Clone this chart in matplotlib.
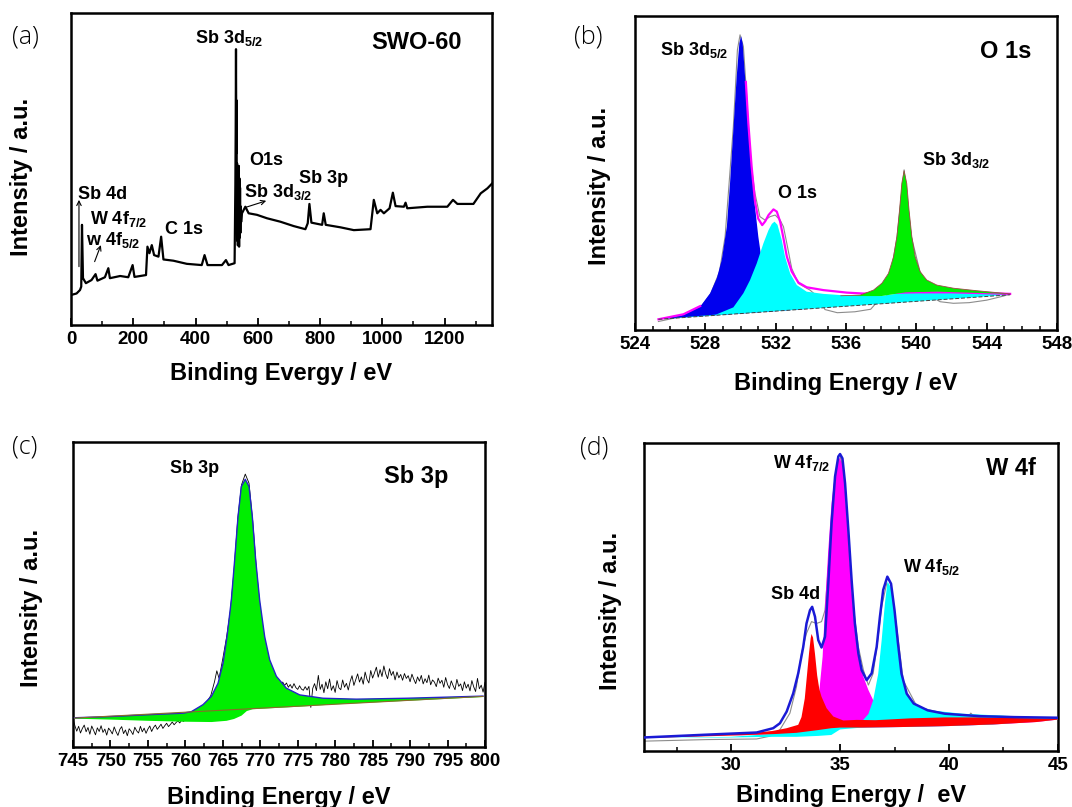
#!/usr/bin/env python3
# -*- coding: utf-8 -*-
"""
Four-panel XPS figure for SWO-60: (a) survey spectrum, (b) O 1s / Sb 3d,
(c) Sb 3p and (d) W 4f regions with fitted components.
Intensities are in arbitrary units (0-100 of the axis height).
"""

import numpy as np
import matplotlib
matplotlib.use("Agg")
import matplotlib.pyplot as plt
from matplotlib.ticker import MultipleLocator

plt.rcParams["font.family"] = ["Liberation Sans", "DejaVu Sans"]
plt.rcParams["font.weight"] = "bold"
plt.rcParams["axes.labelweight"] = "bold"
plt.rcParams["mathtext.default"] = "regular"

# ---------------- (a) survey ----------------
survey_x = [0, 18, 29, 33, 35.4, 38.6, 48, 66, 79, 85, 109, 120, 125, 158, 184, 198, 204,
            241, 245.6, 252, 259.6, 267, 281, 289.6, 297, 329, 372, 420, 429, 438.6, 485,
            497.7, 506, 525.5, 528.0, 529.0, 530.0, 531.0, 531.8, 532.6, 533.5, 534.3,
            535.2, 536.0, 537.0, 538.0, 539.0, 540.0, 541.0, 542.0, 543.0, 544.0, 545.0,
            546.5, 549.2, 560, 570.6, 597.5, 629.7, 672.5, 715.3, 752.9, 760.4, 765.8,
            772.2, 806.6, 811.8, 818.2, 865.5, 908.4, 962, 972.6, 983.6, 994.2, 1004.9,
            1023.2, 1033.8, 1042.5, 1069.2, 1074.6, 1080, 1144.4, 1208.8, 1226.9, 1241,
            1292.5, 1316, 1337.5, 1353]
survey_y = [9.6, 10.1, 11.2, 12.3, 32.1, 15.0, 13.4, 14.4, 16.3, 14.2, 15.3, 18.2, 15.0,
            15.7, 15.3, 19.2, 15.4, 16.0, 25.1, 23.0, 25.6, 22.4, 21.9, 28.3, 21.0, 20.6,
            19.6, 19.2, 22.4, 19.2, 19.2, 20.8, 19.2, 19.8, 45.0, 62.0, 88.4, 55.0, 72.0,
            40.0, 51.8, 27.0, 50.0, 25.5, 49.0, 27.0, 51.0, 25.1, 47.0, 28.0, 44.0, 29.5,
            38.0, 33.0, 35.8, 37.9, 35.8, 35.3, 34.2, 33.1, 31.7, 30.7, 32.6, 38.8, 32.8,
            32.1, 35.8, 32.1, 31.3, 30.4, 30.7, 40.1, 35.8, 36.9, 35.8, 37.4, 42.4, 38.1,
            37.9, 39.2, 37.4, 37.9, 37.9, 40.1, 38.8, 38.8, 42.2, 43.8, 45.4]

# ---------------- (b) O 1s ----------------
base_b_x = [525.33, 545.33]
base_b_y = [3.4, 11.2]
sb5_x = [525.33, 526.75, 527.70, 528.27, 528.65, 528.93, 529.22, 529.40, 529.59, 529.78,
         529.93, 530.03, 530.12, 530.27, 530.44, 530.63, 530.82, 531.01, 531.20, 531.5,
         532.0, 532.8, 533.6]
sb5_y = [3.4, 4.8, 7.4, 11.7, 16.5, 22.3, 32.9, 46.7, 63.7, 80.7, 91.3, 93.6, 91.3, 79.6,
         64.7, 51.0, 39.3, 29.7, 22.3, 16.0, 11.5, 8.5, 6.6]
o1s_x = [528.6, 529.59, 530.16, 530.54, 530.92, 531.30, 531.59, 531.78, 531.93, 532.10,
         532.34, 532.53, 532.82, 533.20, 533.76, 534.71, 536.23, 538.0, 539.4, 541.2,
         543.0, 545.33]
o1s_y = [4.9, 7.2, 11.7, 15.9, 21.2, 27.6, 31.8, 33.8, 34.5, 33.5, 28.7, 23.3, 18.0, 14.3,
         12.2, 11.5, 10.9, 10.8, 12.0, 12.2, 11.9, 11.5]
sb3_x = [535.7, 536.8, 537.56, 538.04, 538.41, 538.70, 538.89, 539.04, 539.17, 539.30,
         539.45, 539.58, 539.74, 539.93, 540.21, 540.59, 541.16, 542.11, 543.44, 545.33]
sb3_y = [10.9, 11.1, 12.7, 14.9, 18.0, 23.3, 29.7, 38.2, 46.7, 50.7, 46.7, 38.2, 29.7,
         23.3, 18.6, 15.9, 14.3, 13.3, 12.5, 11.5]
sb3_lo_x = [535.7, 536.8, 538.0, 539.4, 541.2, 543.0, 545.33]
sb3_lo_y = [10.9, 10.8, 10.8, 12.0, 12.2, 11.9, 11.5]
env_b_x = [525.33, 526.75, 527.70, np.nan, 530.3, 530.44, 530.63, 530.82, 531.0, 531.23,
           531.4, 531.59, 531.87, 532.06, 532.25, 532.44, 532.63, 532.91, 533.29, 533.76,
           534.71, 536.04, 537.0, 538.0, 540.0, 542.0, 545.33]
env_b_y = [3.4, 5.0, 7.6, np.nan, 79.0, 66.0, 52.0, 41.0, 35.5, 33.4, 34.6, 36.6, 38.4,
           37.7, 34.5, 29.2, 23.4, 18.6, 15.1, 13.6, 12.7, 11.9, 11.6, 11.8, 12.0, 12.0, 11.5]
raw_b_x = [525.33, 526.75, 527.70, 528.3, 528.8, 529.12, 529.59, 529.82, 529.97, 530.16,
           530.35, 530.54, 530.82, 531.10, 531.39, 531.68, 531.97, 532.25, 532.44, 532.63,
           532.91, 533.29, 533.95, 534.4, 534.8, 535.5, 536.5, 537.4, 537.7, 538.3, 538.9,
           539.3, 539.7, 540.2, 540.6, 541.0, 541.35, 542.1, 543.0, 544.0, 544.95, 545.33]
raw_b_y = [2.7, 4.4, 7.0, 11.5, 18.5, 29.7, 64.8, 89.2, 94.0, 90.3, 74.3, 55.2, 43.5, 36.1,
           35.0, 36.1, 36.6, 35.0, 32.9, 27.6, 19.6, 14.8, 12.7, 10.5, 6.5, 5.5, 5.8, 6.6,
           8.5, 10.1, 29.7, 51.0, 30.0, 18.6, 14.0, 10.1, 9.0, 8.5, 8.7, 9.5, 10.8, 11.5]

# ---------------- (c) Sb 3p ----------------
base_c_x = [745.2, 799.74]
base_c_y = [9.5, 16.6]
fit_c_x = [745.2, 750.0, 755.0, 759.69, 760.8, 762.36, 763.47, 764.36, 765.03, 765.56,
           766.14, 766.58, 767.03, 767.47, 768.0, 768.5, 768.94, 769.39, 769.92, 770.59,
           771.26, 772.15, 773.48, 775.26, 778.38, 782.83, 789.5, 793.95, 799.74]
fit_c_y = [9.6, 10.0, 10.6, 11.1, 11.6, 13.9, 16.6, 20.9, 27.5, 36.2, 48.2, 61.3, 75.5,
           85.4, 87.8, 85.4, 75.5, 61.3, 48.2, 36.2, 28.6, 23.2, 19.3, 17.1, 16.0, 15.7,
           16.0, 16.3, 16.7]
shirley_c_x = [745.2, 750.0, 755.0, 760.0, 763.5, 765.5, 766.5, 767.5, 768.2, 769.0, 775.0,
               780.0, 790.0, 799.74]
shirley_c_y = [9.3, 9.0, 8.6, 8.3, 8.2, 8.6, 9.2, 10.3, 11.8, 12.4, 13.2, 14.0, 15.2, 16.4]
raw_c_left = [9.3, 7.0, 5.2, 6.8, 4.6, 6.1, 7.2, 5.0, 6.4, 4.2, 6.9, 5.5, 4.0, 6.3, 5.1,
              7.0, 4.8, 5.9, 3.9, 6.2, 5.4, 4.3, 6.6, 5.0, 3.8, 5.8, 6.7, 4.4, 5.6, 3.7,
              6.0, 5.2, 4.1, 6.5, 5.3, 4.6, 6.8, 5.0, 6.2, 4.5, 5.9, 6.9, 5.1, 6.4, 7.2,
              5.8, 6.6, 7.5, 6.1, 7.0, 7.8, 6.7, 7.4, 8.2, 7.3, 8.0, 8.6, 7.9, 8.8, 8.4, 9.0]
raw_c_mid_x = [760.5, 761.0, 761.6, 762.2, 762.8, 763.4, 763.9, 764.2, 764.5, 765.0, 765.5,
               766.0, 766.5, 767.0, 767.5, 768.0, 768.5, 769.0, 769.5, 770.0, 770.5]
raw_c_mid_y = [9.4, 10.2, 11.4, 12.6, 14.5, 16.9, 21.5, 25.0, 22.5, 29.0, 36.0, 44.5, 58.0,
               75.0, 86.0, 89.5, 86.5, 74.0, 58.0, 45.0, 35.5]
raw_c_right = [28.5, 26.8, 25.0, 24.0, 23.3, 22.0, 21.6, 20.9, 21.3,
               20.2, 21.0, 19.6, 20.5, 19.3, 20.8, 19.5, 18.9, 20.1, 19.0, 18.6, 19.8,
               18.7, 19.9, 13.0, 19.2, 20.8, 18.5, 23.5, 18.9, 20.6, 17.8, 21.4, 19.1,
               22.3, 18.6, 20.1, 17.9, 21.8, 19.4, 18.8, 22.0, 19.6, 20.9, 18.7, 21.5,
               23.4, 20.2, 22.1, 24.0, 21.3, 23.0, 20.6, 24.6, 22.2, 21.0, 25.1, 22.6,
               24.3, 26.2, 22.9, 25.4, 23.1, 26.6, 24.0, 22.4, 25.7, 23.5, 24.8, 22.0,
               24.6, 22.7, 23.8, 21.9, 24.1, 22.5, 23.4, 21.4, 23.9, 22.2, 20.8, 23.0,
               21.6, 23.5, 20.7, 22.4, 21.1, 23.6, 20.4, 22.0, 21.3, 19.8, 22.6, 20.9,
               21.9, 19.6, 22.8, 20.5, 19.2, 21.7, 20.1, 18.8, 22.2, 19.9, 20.7, 18.5,
               21.4, 19.3, 20.6, 18.4, 21.8, 19.7, 18.2, 22.5, 19.1, 20.3, 18.0, 21.2]

# ---------------- (d) W 4f ----------------
bg_mid_x = [26.0, 28.0, 30.0, 32.0, 33.0, 34.0, 34.6, 35.0, 36.0, 38.0, 40.0, 42.0, 44.0, 45.0]
bg_mid_y = [4.2, 4.6, 5.0, 5.5, 5.9, 6.8, 7.4, 7.6, 7.6, 7.8, 8.1, 8.6, 9.4, 10.2]
bg_low_x = [26.0, 30.0, 32.0, 33.0, 34.0, 34.6, 35.0, 36.0, 38.0, 40.0, 42.0, 45.0]
bg_low_y = [4.2, 4.4, 4.6, 4.6, 4.9, 5.2, 7.0, 7.6, 7.8, 8.1, 8.6, 10.2]
w52_x = [26.0, 30.0, 32.0, 33.0, 34.0, 34.6, 35.0, 35.5, 36.0, 36.3, 36.52, 36.75, 36.91,
         37.06, 37.18, 37.34, 37.5, 37.66, 37.87, 38.14, 38.54, 39.17, 40.6, 43.0, 45.0]
w52_y = [4.2, 4.6, 5.6, 6.4, 7.4, 7.8, 8.2, 9.0, 9.6, 12.0, 16.5, 25.0, 36.0, 48.0, 55.0,
         53.0, 43.5, 32.7, 22.9, 17.5, 14.8, 13.2, 12.1, 11.3, 10.6]
w72_x = [30.0, 32.0, 33.0, 33.6, 34.0, 34.2, 34.31, 34.46, 34.61, 34.77, 34.92, 35.0, 35.11,
         35.23, 35.38, 35.53, 35.68, 35.84, 36.07, 36.3, 36.52, 36.83, 37.44, 38.5, 40.0,
         41.4, 43.0, 45.0]
w72_y = [5.0, 5.8, 7.0, 9.5, 16.0, 30.6, 46.8, 65.3, 80.5, 90.2, 94.5, 95.0, 92.9, 83.7,
         68.5, 52.3, 39.3, 30.6, 24.1, 19.8, 16.5, 14.4, 12.3, 12.0, 11.7, 11.5, 11.0, 10.6]
sb4d_x = [26.0, 28.9, 31.2, 31.9, 32.55, 33.08, 33.23, 33.38, 33.5, 33.58, 33.65, 33.69,
          33.76, 33.85, 33.95, 34.05, 34.15, 34.38, 34.69, 35.15, 35.76, 36.62, 38.22,
          39.81, 41.41, 43.0, 45.0]
sb4d_y = [4.4, 5.3, 6.0, 6.5, 7.4, 8.5, 11.0, 17.0, 26.0, 32.0, 36.5, 38.0, 36.8, 31.5,
          24.5, 20.0, 17.6, 13.9, 11.2, 9.9, 10.1, 10.0, 10.6, 10.9, 10.9, 10.7, 10.5]
env_d_x = [26.02, 28.88, 31.17, 31.93, 32.24, 32.55, 32.85, 33.08, 33.31, 33.46, 33.62,
           33.72, 33.85, 34.0, 34.15, 34.31, 34.46, 34.61, 34.77, 34.92, 35.0, 35.11, 35.23,
           35.38, 35.53, 35.68, 35.84, 35.99, 36.22, 36.45, 36.68, 36.83, 36.98, 37.17,
           37.34, 37.50, 37.66, 37.82, 38.06, 38.38, 39.02, 39.81, 41.41, 43.0, 45.0]
env_d_y = [4.4, 5.3, 6.0, 7.4, 9.0, 12.8, 18.7, 25.2, 33.8, 41.4, 45.7, 46.8, 43.6, 36.0,
           33.6, 37.1, 54.4, 73.9, 89.1, 95.6, 96.4, 95.0, 86.9, 71.8, 55.5, 41.4, 31.7,
           26.3, 23.0, 25.2, 33.8, 43.6, 52.3, 56.6, 54.3, 45.7, 34.8, 25.1, 18.6, 15.4,
           13.2, 12.1, 11.3, 11.0, 10.8]
raw_d_x = [26.02, 28.88, 31.17, 31.78, 32.24, 32.7, 33.0, 33.23, 33.46, 33.69, 33.92, 34.15,
           34.31, 34.46, 34.69, 34.92, 35.03, 35.23, 35.43, 35.61, 35.84, 36.07, 36.3, 36.52,
           36.71, 36.91, 37.14, 37.3, 37.58, 37.9, 38.54, 39.81, 40.93, 41.0, 41.1, 45.03]
raw_d_y = [3.2, 3.7, 3.9, 4.8, 6.9, 12.3, 20.9, 31.7, 38.2, 42.0, 41.4, 42.0, 45.7, 59.8,
           79.4, 93.4, 95.6, 84.8, 65.3, 46.8, 33.8, 26.3, 21.4, 25.2, 34.9, 46.8, 54.4,
           52.0, 41.3, 22.9, 14.3, 12.1, 11.6, 12.3, 11.6, 10.5]

PEAK_FS = 13
TITLE_FS = 17
LABEL_FS = 17
TICK_FS = 13.5


def band(ax, x_up, y_up, x_lo, y_lo, color, z):
    """Filled region between an upper curve and a lower boundary."""
    xs = np.concatenate([x_up, x_lo[::-1]])
    ys = np.concatenate([y_up, y_lo[::-1]])
    ax.fill(xs, ys, color=color, lw=0, zorder=z)


def style_axes(ax, xlim, major, minor, xlabel, xlab_y, ylab_x, ylab_y):
    ax.set_xlim(*xlim)
    ax.set_ylim(0, 100)
    ax.xaxis.set_major_locator(MultipleLocator(major))
    ax.xaxis.set_minor_locator(MultipleLocator(minor))
    ax.tick_params(axis="x", which="major", direction="in", length=5, width=1.3,
                   labelsize=TICK_FS, pad=4)
    ax.tick_params(axis="x", which="minor", direction="in", length=3, width=1.1)
    ax.set_yticks([])
    for s in ax.spines.values():
        s.set_linewidth(1.8)
    ax.set_xlabel(xlabel, fontsize=LABEL_FS)
    ax.xaxis.set_label_coords(0.5, xlab_y)
    ax.set_ylabel("Intensity / a.u.", fontsize=LABEL_FS)
    ax.yaxis.set_label_coords(ylab_x, ylab_y)


def note(ax, x, y, s, fs=PEAK_FS):
    ax.text(x, y, s, ha="left", va="baseline", fontsize=fs, zorder=10)


fig = plt.figure(figsize=(10.72, 8.07), dpi=100)
ax_a = fig.add_axes([0.0662, 0.5973, 0.3927, 0.3866])
ax_b = fig.add_axes([0.5924, 0.5911, 0.3937, 0.3891])
ax_c = fig.add_axes([0.0681, 0.0743, 0.3843, 0.3779])
ax_d = fig.add_axes([0.6007, 0.0694, 0.3862, 0.3817])

# (a)
ax_a.plot(survey_x, survey_y, color="black", lw=1.6)
style_axes(ax_a, (0, 1352), 200, 100, "Binding Evergy / eV", -0.118, -0.09, 0.475)
note(ax_a, 398, 90.5, "Sb 3d$_{5/2}$")
note(ax_a, 965, 88.4, "SWO-60", TITLE_FS)
note(ax_a, 572, 51.3, "O1s")
note(ax_a, 732, 45.4, "Sb 3p")
note(ax_a, 556, 41.1, "Sb 3d$_{3/2}$")
note(ax_a, 21, 40.5, "Sb 4d")
note(ax_a, 61, 32.4, "W 4f$_{7/2}$")
note(ax_a, 47, 25.6, "w 4f$_{5/2}$")
note(ax_a, 302, 29.2, "C 1s")
arrow = dict(arrowstyle="->", lw=0.8, color="black", mutation_scale=8, shrinkA=0, shrinkB=0)
ax_a.annotate("", xy=(25.7, 40.1), xytext=(25.7, 18.7), arrowprops=arrow)
ax_a.annotate("", xy=(96, 25.6), xytext=(76, 20.3), arrowprops=arrow)
ax_a.annotate("", xy=(627, 39.8), xytext=(561, 37.7), arrowprops=arrow)

# (b)
ax_b.plot(raw_b_x, raw_b_y, color="#8c8c8c", lw=0.8, zorder=1)
band(ax_b, sb5_x, sb5_y, base_b_x, base_b_y, "#0000ee", 2)
band(ax_b, o1s_x, o1s_y, base_b_x, base_b_y, "#00ffff", 3)
ax_b.plot(env_b_x, env_b_y, color="#ff00ff", lw=1.6, zorder=3.5)
band(ax_b, sb3_x, sb3_y, sb3_lo_x, sb3_lo_y, "#00ee00", 4)
ax_b.plot(sb3_x, sb3_y, color="#a04848", lw=0.6, zorder=4.5)
ax_b.plot(base_b_x, base_b_y, color="#404040", lw=0.7, dashes=(4, 2), zorder=5)
style_axes(ax_b, (524, 548), 4, 1, "Binding Energy / eV", -0.134, -0.058, 0.46)
note(ax_b, 525.4, 87.5, "Sb 3d$_{5/2}$")
note(ax_b, 532.15, 41.9, "O 1s")
note(ax_b, 540.3, 52.5, "Sb 3d$_{3/2}$")
note(ax_b, 543.6, 86.5, "O 1s", TITLE_FS)

# (c)
raw_c_x = np.concatenate([np.linspace(745, 760, len(raw_c_left)), raw_c_mid_x,
                          np.linspace(771, 800, len(raw_c_right))])
raw_c_y = np.concatenate([raw_c_left, raw_c_mid_y, raw_c_right])
ax_c.plot(raw_c_x, raw_c_y, color="black", lw=0.6, zorder=2)
band(ax_c, fit_c_x, fit_c_y, shirley_c_x, shirley_c_y, "#00ee00", 3)
ax_c.plot(fit_c_x, fit_c_y, color="#2424c8", lw=1.0, zorder=4)
ax_c.plot(base_c_x, base_c_y, color="#8b6a2a", lw=0.8, zorder=5)
style_axes(ax_c, (745, 800), 5, 2.5, "Binding Energy / eV", -0.128, -0.073, 0.456)
note(ax_c, 757.9, 89.7, "Sb 3p")
note(ax_c, 786.5, 86.5, "Sb 3p", TITLE_FS)

# (d)
ax_d.plot(raw_d_x, raw_d_y, color="#8c8c8c", lw=0.8, zorder=1)
band(ax_d, w72_x, w72_y, bg_mid_x, bg_mid_y, "#ff00ff", 2)
band(ax_d, w52_x, w52_y, bg_low_x, bg_low_y, "#00ffff", 3)
band(ax_d, sb4d_x, sb4d_y, bg_mid_x, bg_mid_y, "#ff0000", 4)
ax_d.plot(env_d_x, env_d_y, color="#1a1ad6", lw=1.8, zorder=5)
style_axes(ax_d, (26, 45), 5, 2.5, "Binding Energy /  eV", -0.107, -0.054, 0.456)
note(ax_d, 31.93, 91.8, "W 4f$_{7/2}$")
note(ax_d, 31.85, 49.2, "Sb 4d")
note(ax_d, 37.9, 58.1, "W 4f$_{5/2}$")
note(ax_d, 41.7, 89.5, "W 4f", TITLE_FS)

# panel letters
for s, px, py in [("(a)", 12, 37), ("(b)", 574, 37), ("(c)", 12, 447), ("(d)", 580, 448)]:
    fig.text(px / 1072, 1 - py / 807, s, fontsize=18, fontweight="light",
             family=["Open Sans", "DejaVu Sans"], ha="left", va="center")

fig.savefig("out.png", dpi=100)
